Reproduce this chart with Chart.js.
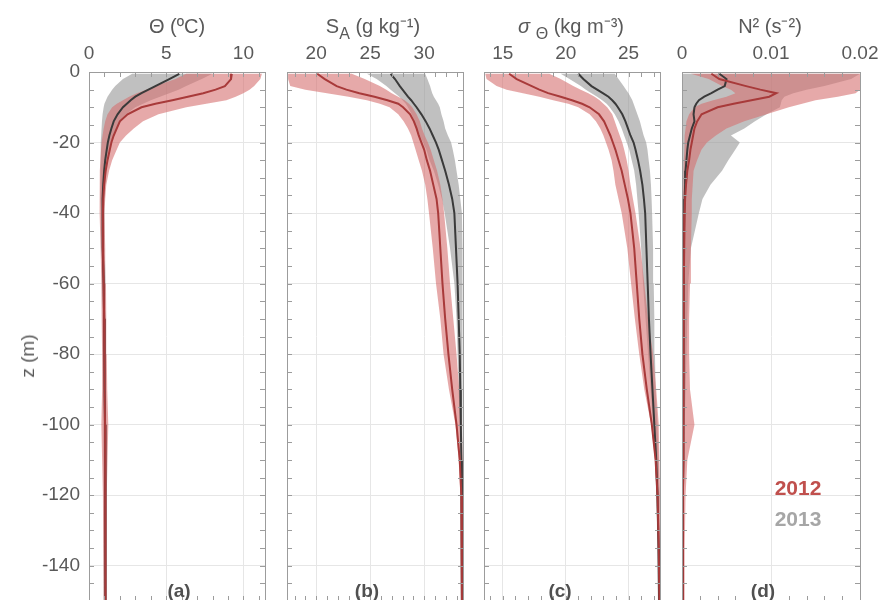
<!DOCTYPE html>
<html>
<head>
<meta charset="utf-8">
<script src="https://cdn.jsdelivr.net/npm/chart.js@4.4.1/dist/chart.umd.min.js"></script>
<style>
  body { margin: 0; width: 878px; height: 600px; overflow: hidden; background: #fff;
         font-family: "Liberation Sans", Arial, sans-serif; color: #595959; }
  canvas { position: absolute; top: 0; }
  .ttl { position: absolute; top: 14px; width: 240px; text-align: center; font-size: 20px; line-height: 24px; }
  .ttl sub { font-size: 0.8em; vertical-align: -0.35em; }
  .tag { position: absolute; top: 580px; width: 60px; text-align: center; font-size: 19px; line-height: 22px; font-weight: bold; color: #505050; }
  .yr { position: absolute; left: 758px; width: 80px; text-align: center; font-size: 21px; line-height: 24px; font-weight: bold; }
  .ylab { position: absolute; left: 28px; top: 356px; font-size: 19px; white-space: nowrap;
          transform: translate(-50%, -50%) rotate(-90deg); }
</style>
</head>
<body>
<canvas id="pa" width="275" height="610" style="left:0px"></canvas>
<canvas id="pb" width="198" height="610" style="left:275px"></canvas>
<canvas id="pc" width="198" height="610" style="left:472px"></canvas>
<canvas id="pd" width="208" height="610" style="left:670px"></canvas>

<div class="ttl" style="left:57px">Θ (ºC)</div>
<div class="ttl" style="left:253px">S<sub>A</sub> (g kg⁻¹)</div>
<div class="ttl" style="left:451px"><i>σ</i> <sub>Θ</sub> (kg m⁻³)</div>
<div class="ttl" style="left:650px">N² (s⁻²)</div>
<div class="ylab">z (m)</div>
<div class="tag" style="left:149px">(a)</div>
<div class="tag" style="left:337px">(b)</div>
<div class="tag" style="left:530px">(c)</div>
<div class="tag" style="left:733px">(d)</div>
<div class="yr" style="top:476px;color:#c0504d">2012</div>
<div class="yr" style="top:507px;color:#a6a6a6">2013</div>

<script>
// depth levels (m) shared by every profile
const zGrid = [-0.5, -2, -4, -5, -6, -7, -8, -9, -10, -12, -14, -16, -18, -20, -22, -25, -28, -32, -36, -40, -50, -60, -70, -80, -90, -100, -110, -120, -135, -150];

// (a) conservative temperature
const thetaLo12 = [6.3, 5.6, 4.3, 3.7, 3.1, 2.6, 2.2, 1.8, 1.5, 1.2, 1.05, 0.95, 0.88, 0.82, 0.78, 0.74, 0.7, 0.68, 0.68, 0.7, 0.75, 0.8, 0.82, 0.85, 0.85, 0.8, 0.85, 0.9, 0.92, 0.95];
const thetaHi12 = [11.2, 11.1, 10.7, 10.4, 10.0, 9.5, 8.9, 7.6, 6.3, 4.5, 3.5, 2.9, 2.4, 2.0, 1.8, 1.5, 1.3, 1.12, 1.05, 1.0, 1.05, 1.1, 1.12, 1.15, 1.18, 1.25, 1.2, 1.15, 1.15, 1.15];
const thetaMean12 = [9.25, 9.2, 8.8, 8.2, 7.4, 6.4, 5.4, 4.3, 3.4, 2.5, 2.0, 1.8, 1.6, 1.45, 1.35, 1.2, 1.08, 0.98, 0.92, 0.9, 0.9, 0.95, 0.98, 1.0, 1.02, 1.04, 1.05, 1.06, 1.07, 1.08];
const thetaLo13 = [2.8, 2.2, 1.7, 1.5, 1.35, 1.2, 1.1, 1.0, 0.95, 0.88, 0.84, 0.8, 0.78, 0.76, 0.75, 0.74, 0.73, 0.73, 0.75, 0.78, 0.82, 0.85, 0.88, 0.9, 0.92, 0.93, 0.94, 0.95, 0.96, 0.97];
const thetaHi13 = [8.0, 7.3, 6.3, 5.8, 5.2, 4.6, 4.0, 3.5, 3.0, 2.4, 2.0, 1.75, 1.55, 1.4, 1.3, 1.2, 1.12, 1.06, 1.02, 1.0, 1.02, 1.05, 1.07, 1.1, 1.1, 1.12, 1.12, 1.12, 1.12, 1.12];
const thetaMean13 = [5.85, 5.2, 4.3, 3.85, 3.4, 3.0, 2.7, 2.45, 2.2, 1.85, 1.6, 1.45, 1.32, 1.22, 1.15, 1.05, 0.98, 0.92, 0.88, 0.87, 0.9, 0.95, 0.98, 1.0, 1.02, 1.04, 1.05, 1.06, 1.07, 1.08];

// (b) absolute salinity
const saLo12 = [17.4, 17.4, 17.6, 19.0, 21.0, 23.0, 24.7, 25.9, 26.8, 27.6, 28.1, 28.5, 28.8, 29.0, 29.2, 29.5, 29.8, 30.1, 30.3, 30.45, 30.8, 31.1, 31.5, 31.8, 32.3, 32.9, 33.2, 33.35, 33.4, 33.4];
const saHi12 = [23.3, 24.5, 25.9, 26.5, 27.0, 27.6, 28.2, 28.6, 28.9, 29.3, 29.6, 29.8, 30.05, 30.35, 30.6, 30.9, 31.2, 31.5, 31.7, 31.85, 32.15, 32.4, 32.7, 33.0, 33.25, 33.5, 33.55, 33.6, 33.6, 33.6];
const saMean12 = [20.1, 20.8, 21.9, 22.8, 24.0, 25.4, 26.6, 27.6, 28.05, 28.7, 29.05, 29.3, 29.5, 29.75, 30.0, 30.25, 30.55, 30.85, 31.15, 31.3, 31.5, 31.7, 31.95, 32.25, 32.6, 33.0, 33.3, 33.45, 33.5, 33.5];
const saLo13 = [24.7, 25.6, 26.5, 26.9, 27.3, 27.7, 28.0, 28.3, 28.5, 28.85, 29.1, 29.3, 29.6, 29.9, 30.2, 30.5, 30.9, 31.3, 31.65, 31.9, 32.4, 32.8, 33.0, 33.1, 33.2, 33.3, 33.4, 33.45, 33.45, 33.45];
const saHi13 = [30.1, 30.3, 30.55, 30.65, 30.75, 30.9, 31.1, 31.3, 31.45, 31.6, 31.8, 31.95, 32.2, 32.5, 32.65, 32.85, 33.0, 33.2, 33.35, 33.5, 33.55, 33.55, 33.55, 33.55, 33.55, 33.55, 33.55, 33.55, 33.55, 33.55];
const saMean13 = [26.9, 27.3, 27.75, 28.0, 28.25, 28.5, 28.8, 29.05, 29.3, 29.75, 30.15, 30.5, 30.8, 31.1, 31.35, 31.65, 31.95, 32.3, 32.6, 32.8, 32.95, 33.1, 33.2, 33.3, 33.35, 33.4, 33.45, 33.5, 33.5, 33.5];

// (c) potential density anomaly
const sigLo12 = [13.6, 13.7, 14.5, 15.3, 16.6, 17.9, 19.0, 20.2, 21.0, 21.9, 22.4, 22.75, 23.0, 23.2, 23.4, 23.65, 23.8, 23.95, 24.2, 24.45, 24.9, 25.2, 25.5, 25.85, 26.25, 26.8, 27.1, 27.25, 27.35, 27.35];
const sigHi12 = [18.7, 19.6, 20.6, 21.2, 21.8, 22.3, 22.7, 23.0, 23.3, 23.7, 23.9, 24.1, 24.3, 24.5, 24.65, 24.85, 25.0, 25.15, 25.35, 25.55, 25.95, 26.25, 26.55, 26.95, 27.2, 27.4, 27.45, 27.5, 27.5, 27.5];
const sigMean12 = [15.5, 16.1, 17.3, 17.9, 18.6, 19.6, 20.5, 21.3, 21.9, 22.65, 23.05, 23.3, 23.55, 23.75, 23.95, 24.2, 24.45, 24.7, 24.95, 25.15, 25.45, 25.65, 25.85, 26.1, 26.45, 26.85, 27.15, 27.3, 27.4, 27.45];
const sigLo13 = [19.6, 20.3, 21.2, 21.6, 22.05, 22.5, 22.9, 23.25, 23.5, 23.9, 24.2, 24.45, 24.65, 24.85, 25.05, 25.25, 25.45, 25.6, 25.7, 25.8, 26.0, 26.15, 26.35, 26.55, 26.75, 26.95, 27.1, 27.2, 27.3, 27.35];
const sigHi13 = [23.9, 24.2, 24.6, 24.8, 25.0, 25.15, 25.3, 25.4, 25.5, 25.7, 25.9, 26.05, 26.2, 26.4, 26.5, 26.6, 26.7, 26.78, 26.83, 26.87, 26.95, 27.0, 27.05, 27.1, 27.15, 27.3, 27.4, 27.45, 27.45, 27.45];
const sigMean13 = [21.0, 21.4, 22.05, 22.5, 22.95, 23.4, 23.7, 23.95, 24.15, 24.5, 24.75, 24.95, 25.15, 25.4, 25.55, 25.75, 25.92, 26.1, 26.22, 26.32, 26.42, 26.52, 26.62, 26.75, 26.9, 27.05, 27.2, 27.3, 27.38, 27.42];

// (d) buoyancy frequency squared
const n2Lo12 = [0.001, 0.003, 0.0045, 0.0055, 0.006, 0.005, 0.0035, 0.0022, 0.0014, 0.0008, 0.0005, 0.0004, 0.0003, 0.0003, 0.00025, 0.0002, 0.0002, 0.00015, 0.0001, 0.0001, 0.00005, 0.00005, 0.00005, 0.00005, 0.00005, 0.00005, 0.00005, 0.00005, 0.00005, 0.00005];
const n2Hi12 = [0.02, 0.02, 0.02, 0.02, 0.0195, 0.0175, 0.015, 0.0135, 0.012, 0.0095, 0.007, 0.005, 0.0038, 0.0028, 0.0022, 0.0017, 0.0013, 0.0012, 0.0011, 0.0011, 0.001, 0.0009, 0.0008, 0.0008, 0.0009, 0.0014, 0.0006, 0.0004, 0.0003, 0.0003];
const n2Mean12 = [0.0033, 0.0042, 0.0072, 0.0088, 0.0106, 0.0098, 0.0078, 0.0058, 0.004, 0.0022, 0.0017, 0.0014, 0.00125, 0.0011, 0.00095, 0.0008, 0.0006, 0.00045, 0.00035, 0.0003, 0.00025, 0.0002, 0.0002, 0.00018, 0.00016, 0.00015, 0.00012, 0.0001, 0.0001, 0.0001];
const n2Lo13 = [0.0001, 0.0001, 0.0001, 0.0001, 0.0001, 0.0001, 0.0001, 0.0001, 0.0001, 0.0001, 0.00005, 0.00005, 0.00005, 0.00005, 0.00005, 0.00005, 0.00005, 0.00005, 0.00005, 0.00005, 0.00002, 0.00002, 0.00002, 0.00002, 0.00002, 0.00002, 0.00002, 0.00002, 0.00002, 0.00002];
const n2Hi13 = [0.02, 0.019, 0.016, 0.014, 0.0125, 0.0115, 0.0112, 0.0111, 0.011, 0.0095, 0.0082, 0.007, 0.0055, 0.0065, 0.006, 0.0052, 0.0045, 0.0032, 0.0023, 0.0019, 0.001, 0.0007, 0.0006, 0.0005, 0.0004, 0.0003, 0.0003, 0.0002, 0.0002, 0.0002];
const n2Mean13 = [0.0042, 0.005, 0.0048, 0.004, 0.0033, 0.0025, 0.0019, 0.0016, 0.0014, 0.0013, 0.0014, 0.0011, 0.0009, 0.0007, 0.0006, 0.0005, 0.0004, 0.00035, 0.0003, 0.00025, 0.0002, 0.00018, 0.00016, 0.00015, 0.00014, 0.00013, 0.00012, 0.0001, 0.0001, 0.0001];

// axis limits and tick steps per panel (a..d)
const xMin = [0, 17.3, 13.5, 0];
const xMax = [11.4, 33.6, 27.5, 0.02];
const xMajor = [5, 5, 5, 0.01];
const xMinor = [1, 1, 1, 0.002];
const zMin = -150, zMax = 0, zMajor = 20, zMinor = 5;

const RED_FILL = 'rgba(214,112,112,0.6)';
const GREY_FILL = 'rgba(150,150,150,0.6)';
const RED_LINE = '#a83a3a';
const GREY_LINE = '#3a3a3a';
const TXT = '#595959';
const FONT = '"Liberation Sans", Arial, sans-serif';

function profile(vals) {
    return zGrid.map((z, i) => ({ x: vals[i], y: z }));
}

// closed outline: down the low side, back up the high side
function envelope(lo, hi) {
    const pts = profile(lo);
    for (let i = zGrid.length - 1; i >= 0; i--) pts.push({ x: hi[i], y: zGrid[i] });
    return pts;
}

// box round the plot plus inward minor ticks
const framePlugin = {
    id: 'frame',
    afterDraw(chart, args, opts) {
        const { ctx, chartArea: a, scales: { x, y } } = chart;
        ctx.save();
        ctx.strokeStyle = '#9c9c9c';
        ctx.lineWidth = 1;
        ctx.beginPath();
        const n0 = Math.ceil(x.min / opts.minor - 1e-6), n1 = Math.floor(x.max / opts.minor + 1e-6);
        for (let n = n0; n <= n1; n++) {
            const px = Math.round(x.getPixelForValue(n * opts.minor)) + 0.5;
            ctx.moveTo(px, a.top); ctx.lineTo(px, a.top + 5);
            ctx.moveTo(px, a.bottom); ctx.lineTo(px, a.bottom - 5);
        }
        for (let v = zMin; v <= zMax; v += zMinor) {
            const py = Math.round(y.getPixelForValue(v)) + 0.5;
            ctx.moveTo(a.left, py); ctx.lineTo(a.left + 5, py);
            ctx.moveTo(a.right, py); ctx.lineTo(a.right - 5, py);
        }
        ctx.stroke();
        ctx.strokeRect(Math.round(a.left) + 0.5, Math.round(a.top) + 0.5, Math.round(a.right - a.left), Math.round(a.bottom - a.top));
        ctx.restore();
    }
};

function createPanel(ctx, k, sets, yWidth, padRight) {
    const [lo12, hi12, mean12, lo13, hi13, mean13] = sets;
    new Chart(ctx, {
        type: 'line',
        data: {
            datasets: [
                { data: profile(mean12), borderColor: RED_LINE, borderWidth: 2, fill: false },
                { data: profile(mean13), borderColor: GREY_LINE, borderWidth: 2, fill: false },
                { data: envelope(lo12, hi12), borderWidth: 0, borderColor: 'transparent', backgroundColor: RED_FILL, fill: 'shape' },
                { data: envelope(lo13, hi13), borderWidth: 0, borderColor: 'transparent', backgroundColor: GREY_FILL, fill: 'shape' }
            ]
        },
        options: {
            responsive: false,
            animation: false,
            layout: { padding: { left: 0, right: padRight, top: 0, bottom: 9 } },
            elements: { point: { radius: 0 }, line: { tension: 0 } },
            plugins: { legend: { display: false }, tooltip: { enabled: false }, frame: { minor: xMinor[k] } },
            scales: {
                x: {
                    type: 'linear', position: 'top', min: xMin[k], max: xMax[k],
                    border: { display: false },
                    grid: { color: '#e6e6e6', drawTicks: false },
                    ticks: { stepSize: xMajor[k], includeBounds: false, padding: 7, color: TXT, font: { size: 19, family: FONT } },
                    afterFit: (s) => { s.height = 72; s.paddingLeft = 0; s.paddingRight = 0; }
                },
                y: {
                    type: 'linear', min: zMin, max: zMax,
                    border: { display: false },
                    grid: { color: '#e6e6e6', drawTicks: false },
                    ticks: { stepSize: zMajor, includeBounds: false, padding: 9, display: k === 0, color: TXT, font: { size: 19, family: FONT } },
                    afterFit: (s) => { s.width = yWidth; s.paddingTop = 0; s.paddingBottom = 0; }
                }
            }
        },
        plugins: [framePlugin]
    });
}

const panels = {
    pa: [[thetaLo12, thetaHi12, thetaMean12, thetaLo13, thetaHi13, thetaMean13], 89, 10],
    pb: [[saLo12, saHi12, saMean12, saLo13, saHi13, saMean13], 12, 10],
    pc: [[sigLo12, sigHi12, sigMean12, sigLo13, sigHi13, sigMean13], 12, 10],
    pd: [[n2Lo12, n2Hi12, n2Mean12, n2Lo13, n2Hi13, n2Mean13], 12, 18]
};

Object.keys(panels).forEach((id, k) => {
    const el = document.getElementById(id);
    const [sets, yWidth, padRight] = panels[id];
    if (el) createPanel(el.getContext('2d'), k, sets, yWidth, padRight);
});
</script>
</body>
</html>
